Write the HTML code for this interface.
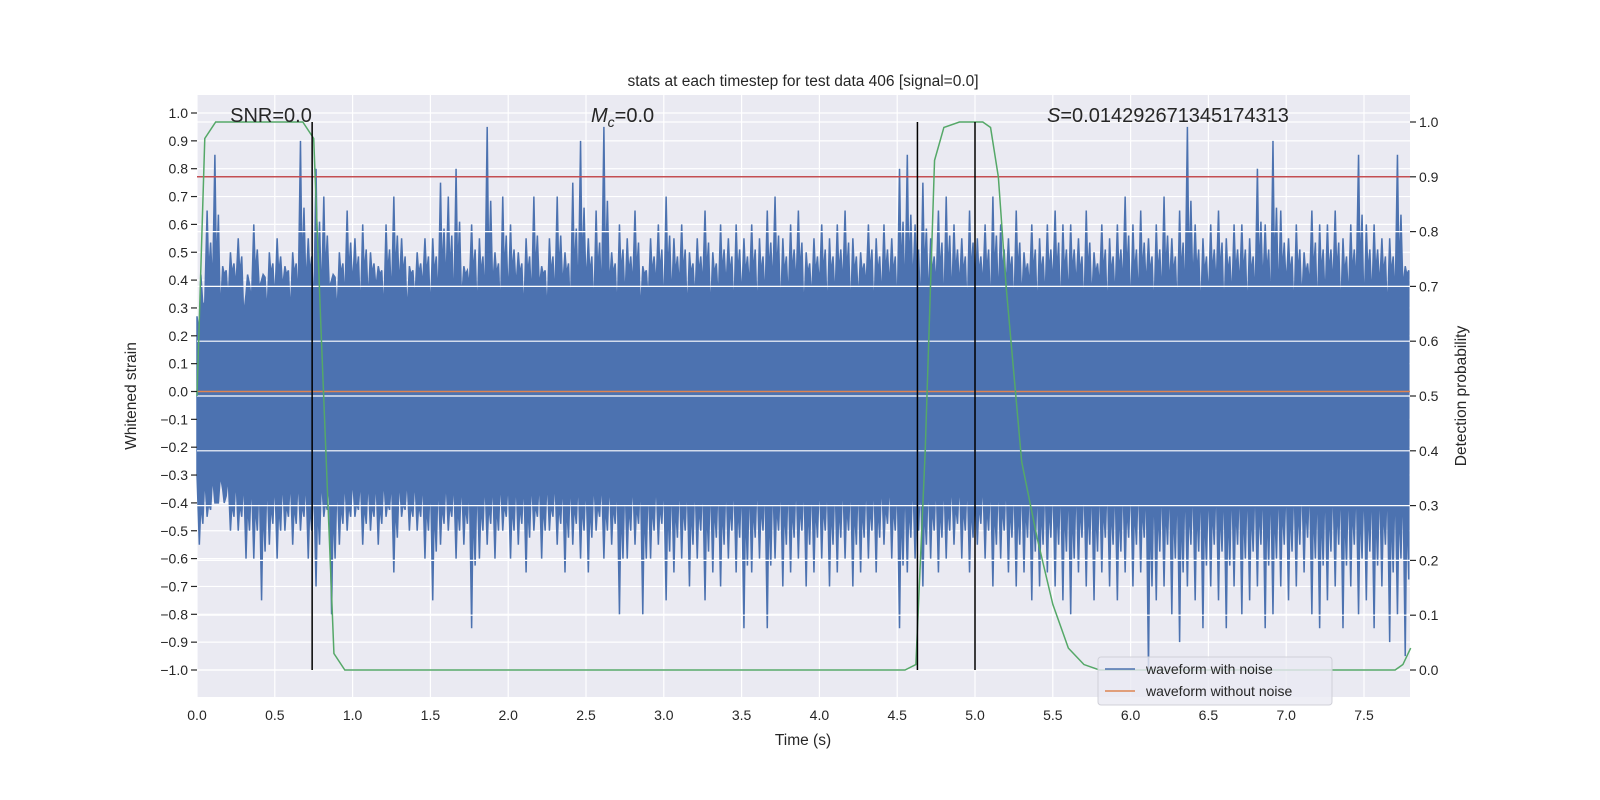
<!DOCTYPE html>
<html><head><meta charset="utf-8"><style>
html,body{margin:0;padding:0;background:#fff;width:1600px;height:800px;overflow:hidden;}
svg{display:block;position:absolute;left:0;top:0;font-family:"Liberation Sans","DejaVu Sans",sans-serif;}
</style></head><body>
<svg id="chart" width="1600" height="800" viewBox="0 0 1600 800" xmlns="http://www.w3.org/2000/svg"></svg>
<script>
const timeStart = 0, binWidth = 0.05;
const noiseTop = [0.2,0.65,0.85,0.45,0.5,0.55,0.35,0.6,0.4,0.5,
0.55,0.45,0.5,0.9,0.55,0.8,0.7,0.4,0.5,0.65,
0.55,0.6,0.5,0.45,0.6,0.7,0.55,0.45,0.5,0.55,
0.55,0.75,0.7,0.8,0.45,0.6,0.55,0.95,0.5,0.7,
0.6,0.5,0.55,0.7,0.45,0.55,0.7,0.5,0.75,0.9,
0.55,0.65,0.95,0.5,0.6,0.55,0.65,0.45,0.55,0.6,
0.7,0.55,0.6,0.5,0.55,0.65,0.5,0.6,0.55,0.6,
0.55,0.6,0.55,0.65,0.7,0.55,0.6,0.65,0.5,0.55,
0.6,0.55,0.6,0.65,0.55,0.5,0.6,0.55,0.6,0.55,
0.8,0.85,0.6,0.75,0.55,0.65,0.7,0.6,0.55,0.65,
0.55,0.6,0.7,0.6,0.55,0.65,0.5,0.6,0.55,0.6,
0.65,0.6,0.6,0.55,0.65,0.5,0.6,0.55,0.6,0.7,
0.6,0.65,0.55,0.6,0.7,0.55,0.65,0.95,0.6,0.55,
0.6,0.65,0.55,0.6,0.6,0.55,0.8,0.6,0.9,0.65,
0.55,0.6,0.5,0.65,0.6,0.6,0.65,0.55,0.6,0.85,
0.6,0.6,0.55,0.55,0.85,0.45];
const noiseBottom = [-0.55,-0.45,-0.4,-0.35,-0.5,-0.5,-0.6,-0.6,-0.75,-0.55,
-0.6,-0.5,-0.55,-0.5,-0.6,-0.7,-0.45,-0.8,-0.55,-0.5,
-0.45,-0.55,-0.5,-0.55,-0.45,-0.65,-0.45,-0.5,-0.5,-0.6,
-0.75,-0.55,-0.5,-0.6,-0.55,-0.85,-0.6,-0.55,-0.6,-0.5,
-0.6,-0.55,-0.65,-0.5,-0.6,-0.5,-0.55,-0.65,-0.55,-0.6,
-0.65,-0.5,-0.6,-0.55,-0.8,-0.6,-0.55,-0.8,-0.6,-0.55,
-0.75,-0.65,-0.6,-0.7,-0.6,-0.75,-0.65,-0.7,-0.6,-0.65,
-0.85,-0.65,-0.6,-0.85,-0.6,-0.7,-0.65,-0.6,-0.7,-0.65,
-0.6,-0.7,-0.65,-0.6,-0.7,-0.65,-0.6,-0.65,-0.55,-0.6,
-0.85,-0.65,-0.6,-0.7,-0.6,-0.65,-0.6,-0.55,-0.6,-0.65,
-0.55,-0.6,-0.7,-0.6,-0.65,-0.7,-0.65,-0.75,-0.7,-0.65,
-0.7,-0.75,-0.8,-0.65,-0.7,-0.75,-0.65,-0.7,-0.75,-0.65,
-0.7,-0.65,-1.0,-0.75,-0.7,-0.8,-0.9,-0.7,-0.75,-0.85,
-0.7,-0.75,-0.85,-0.7,-0.8,-0.75,-0.7,-0.85,-0.8,-0.7,
-0.75,-0.7,-0.65,-0.8,-0.85,-0.75,-0.7,-0.85,-0.7,-0.8,
-0.75,-0.85,-0.7,-0.9,-0.8,-0.95];
const bandTop = 0.32, bandBottom = -0.3;
const probTimes = [0,0.05,0.12,0.3,0.68,0.75,0.8,0.88,0.95,4.55,4.62,4.68,4.74,4.8,4.9,5.05,5.1,5.15,5.2,5.3,5.4,5.5,5.6,5.7,5.8,7.7,7.75,7.8];
const probValues = [0.5,0.97,1.0,1.0,1.0,0.97,0.6,0.03,0.0,0.0,0.01,0.4,0.93,0.99,1.0,1.0,0.99,0.9,0.7,0.38,0.24,0.12,0.04,0.01,0.0,0.0,0.01,0.04];
const markerTimes = [0.74,4.63,5.0];
const threshold = 0.9;
const xTicks = [0,0.5,1,1.5,2,2.5,3,3.5,4,4.5,5,5.5,6,6.5,7,7.5];
const yLeftTicks = [-1,-0.9,-0.8,-0.7,-0.6,-0.5,-0.4,-0.3,-0.2,-0.1,0,0.1,0.2,0.3,0.4,0.5,0.6,0.7,0.8,0.9,1.0];
const yRightTicks = [0,0.1,0.2,0.3,0.4,0.5,0.6,0.7,0.8,0.9,1.0];

const L=197,R=1410,T=95,B=697;
const xs=t=>L+t*155.6;
const yl=v=>391.5-v*278.5;
const yr=v=>670-v*548;
const NS="http://www.w3.org/2000/svg";
const svg=document.getElementById('chart');
function mk(tag,attrs,parent){const e=document.createElementNS(NS,tag);for(const k in attrs)e.setAttribute(k,attrs[k]);(parent||svg).appendChild(e);return e;}
const fmt=v=>(v<0?'\u2212':'')+Math.abs(v).toFixed(1);

let e=mk('rect',{x:L,y:T,width:R-L,height:B-T,fill:'#eaeaf2'});


xTicks.forEach(t=>{mk('line',{x1:xs(t),x2:xs(t),y1:T,y2:B,stroke:'#fff','stroke-width':1.2});});
yLeftTicks.forEach(v=>{mk('line',{x1:L,x2:R,y1:yl(v),y2:yl(v),stroke:'#fff','stroke-width':1.2});});

const g=mk('g',{});


let pts=[];
noiseTop.forEach((v,i)=>{const t=timeStart+i*binWidth;pts.push(xs(t)+','+yl(bandTop+0.05*((i%3)-1)));pts.push(xs(t+binWidth*0.3)+','+yl(v));pts.push(xs(t+binWidth*0.5)+','+yl(bandTop+0.1));pts.push(xs(t+binWidth*0.75)+','+yl((v+bandTop)/2+0.05));});
for(let i=noiseBottom.length-1;i>=0;i--){const t=timeStart+i*binWidth;const v=noiseBottom[i];pts.push(xs(t+binWidth*0.75)+','+yl((v+bandBottom)/2-0.05));pts.push(xs(t+binWidth*0.5)+','+yl(bandBottom-0.1));pts.push(xs(t+binWidth*0.3)+','+yl(v));pts.push(xs(t)+','+yl(bandBottom));}
mk('polygon',{points:pts.join(' '),fill:'#4c72b0',stroke:'#4c72b0','stroke-width':1.5,'stroke-linejoin':'miter'},g);

yRightTicks.forEach(v=>{mk('line',{x1:L,x2:R,y1:yr(v),y2:yr(v),stroke:'#fff','stroke-width':1.2});});

e=mk('line',{x1:L,x2:R,y1:yl(0),y2:yl(0),stroke:'#dd8452','stroke-width':1.5});


e=mk('line',{x1:L,x2:R,y1:yr(threshold),y2:yr(threshold),stroke:'#c44e52','stroke-width':1.5});


e=mk('polyline',{points:probTimes.map((t,i)=>xs(t)+','+yr(probValues[i])).join(' '),fill:'none',stroke:'#55a868','stroke-width':1.5});


markerTimes.forEach(t=>{
  const m=mk('line',{x1:xs(t),x2:xs(t),y1:yr(1),y2:yr(0),stroke:'#000','stroke-width':1.5});
  
  
});

xTicks.forEach(t=>{const tx=mk('text',{x:xs(t),y:720,'text-anchor':'middle','font-size':14,fill:'#262626'});tx.textContent=t.toFixed(1);
});
yLeftTicks.forEach(v=>{mk('line',{x1:L-6,x2:L,y1:yl(v),y2:yl(v),stroke:'#262626','stroke-width':1.2});
const tx=mk('text',{x:L-9,y:yl(v)+5,'text-anchor':'end','font-size':14,fill:'#262626'});tx.textContent=fmt(v);
});
yRightTicks.forEach(v=>{mk('line',{x1:R,x2:R+6,y1:yr(v),y2:yr(v),stroke:'#262626','stroke-width':1.2});
const tx=mk('text',{x:R+9,y:yr(v)+5,'font-size':14,fill:'#262626'});tx.textContent=v.toFixed(1);
});

function label(txt,x,y,name,size,rot){const t=mk('text',{x:x,y:y,'text-anchor':'middle','font-size':size,fill:'#262626'});if(rot)t.setAttribute('transform','rotate(-90 '+x+' '+y+')');t.textContent=txt;return t;}
label('Time (s)',803,745,'x-axis-title',15.5);
label('Whitened strain',136,396,'y-axis-title',15.5,true);
label('Detection probability',1466,396,'y-right-axis-title',15.5,true);
label('stats at each timestep for test data 406 [signal=0.0]',803,86,'chart-title',15.5);
label('SNR=0.0',271,122,'snr-annotation',20);
const mc=mk('text',{x:591,y:122,'font-size':20,fill:'#262626'});

mc.innerHTML='<tspan font-style="italic">M</tspan><tspan font-style="italic" font-size="14" dy="5">c</tspan><tspan dy="-5">=0.0</tspan>';
const sa=mk('text',{x:1047,y:122,'font-size':20,fill:'#262626'});

sa.innerHTML='<tspan font-style="italic">S</tspan>=0.014292671345174313';

const lg=mk('g',{});


mk('rect',{x:1098,y:657,width:234,height:48,rx:3,fill:'#eaeaf2','fill-opacity':0.8,stroke:'#d0d0d8'},lg);
mk('line',{x1:1105,x2:1135,y1:669,y2:669,stroke:'#4c72b0','stroke-width':1.5},lg);
mk('line',{x1:1105,x2:1135,y1:691,y2:691,stroke:'#dd8452','stroke-width':1.5},lg);
let t1=mk('text',{x:1146,y:674,'font-size':14,fill:'#262626'},lg);t1.textContent='waveform with noise';

let t2=mk('text',{x:1146,y:696,'font-size':14,fill:'#262626'},lg);t2.textContent='waveform without noise';

</script>
</body></html>
